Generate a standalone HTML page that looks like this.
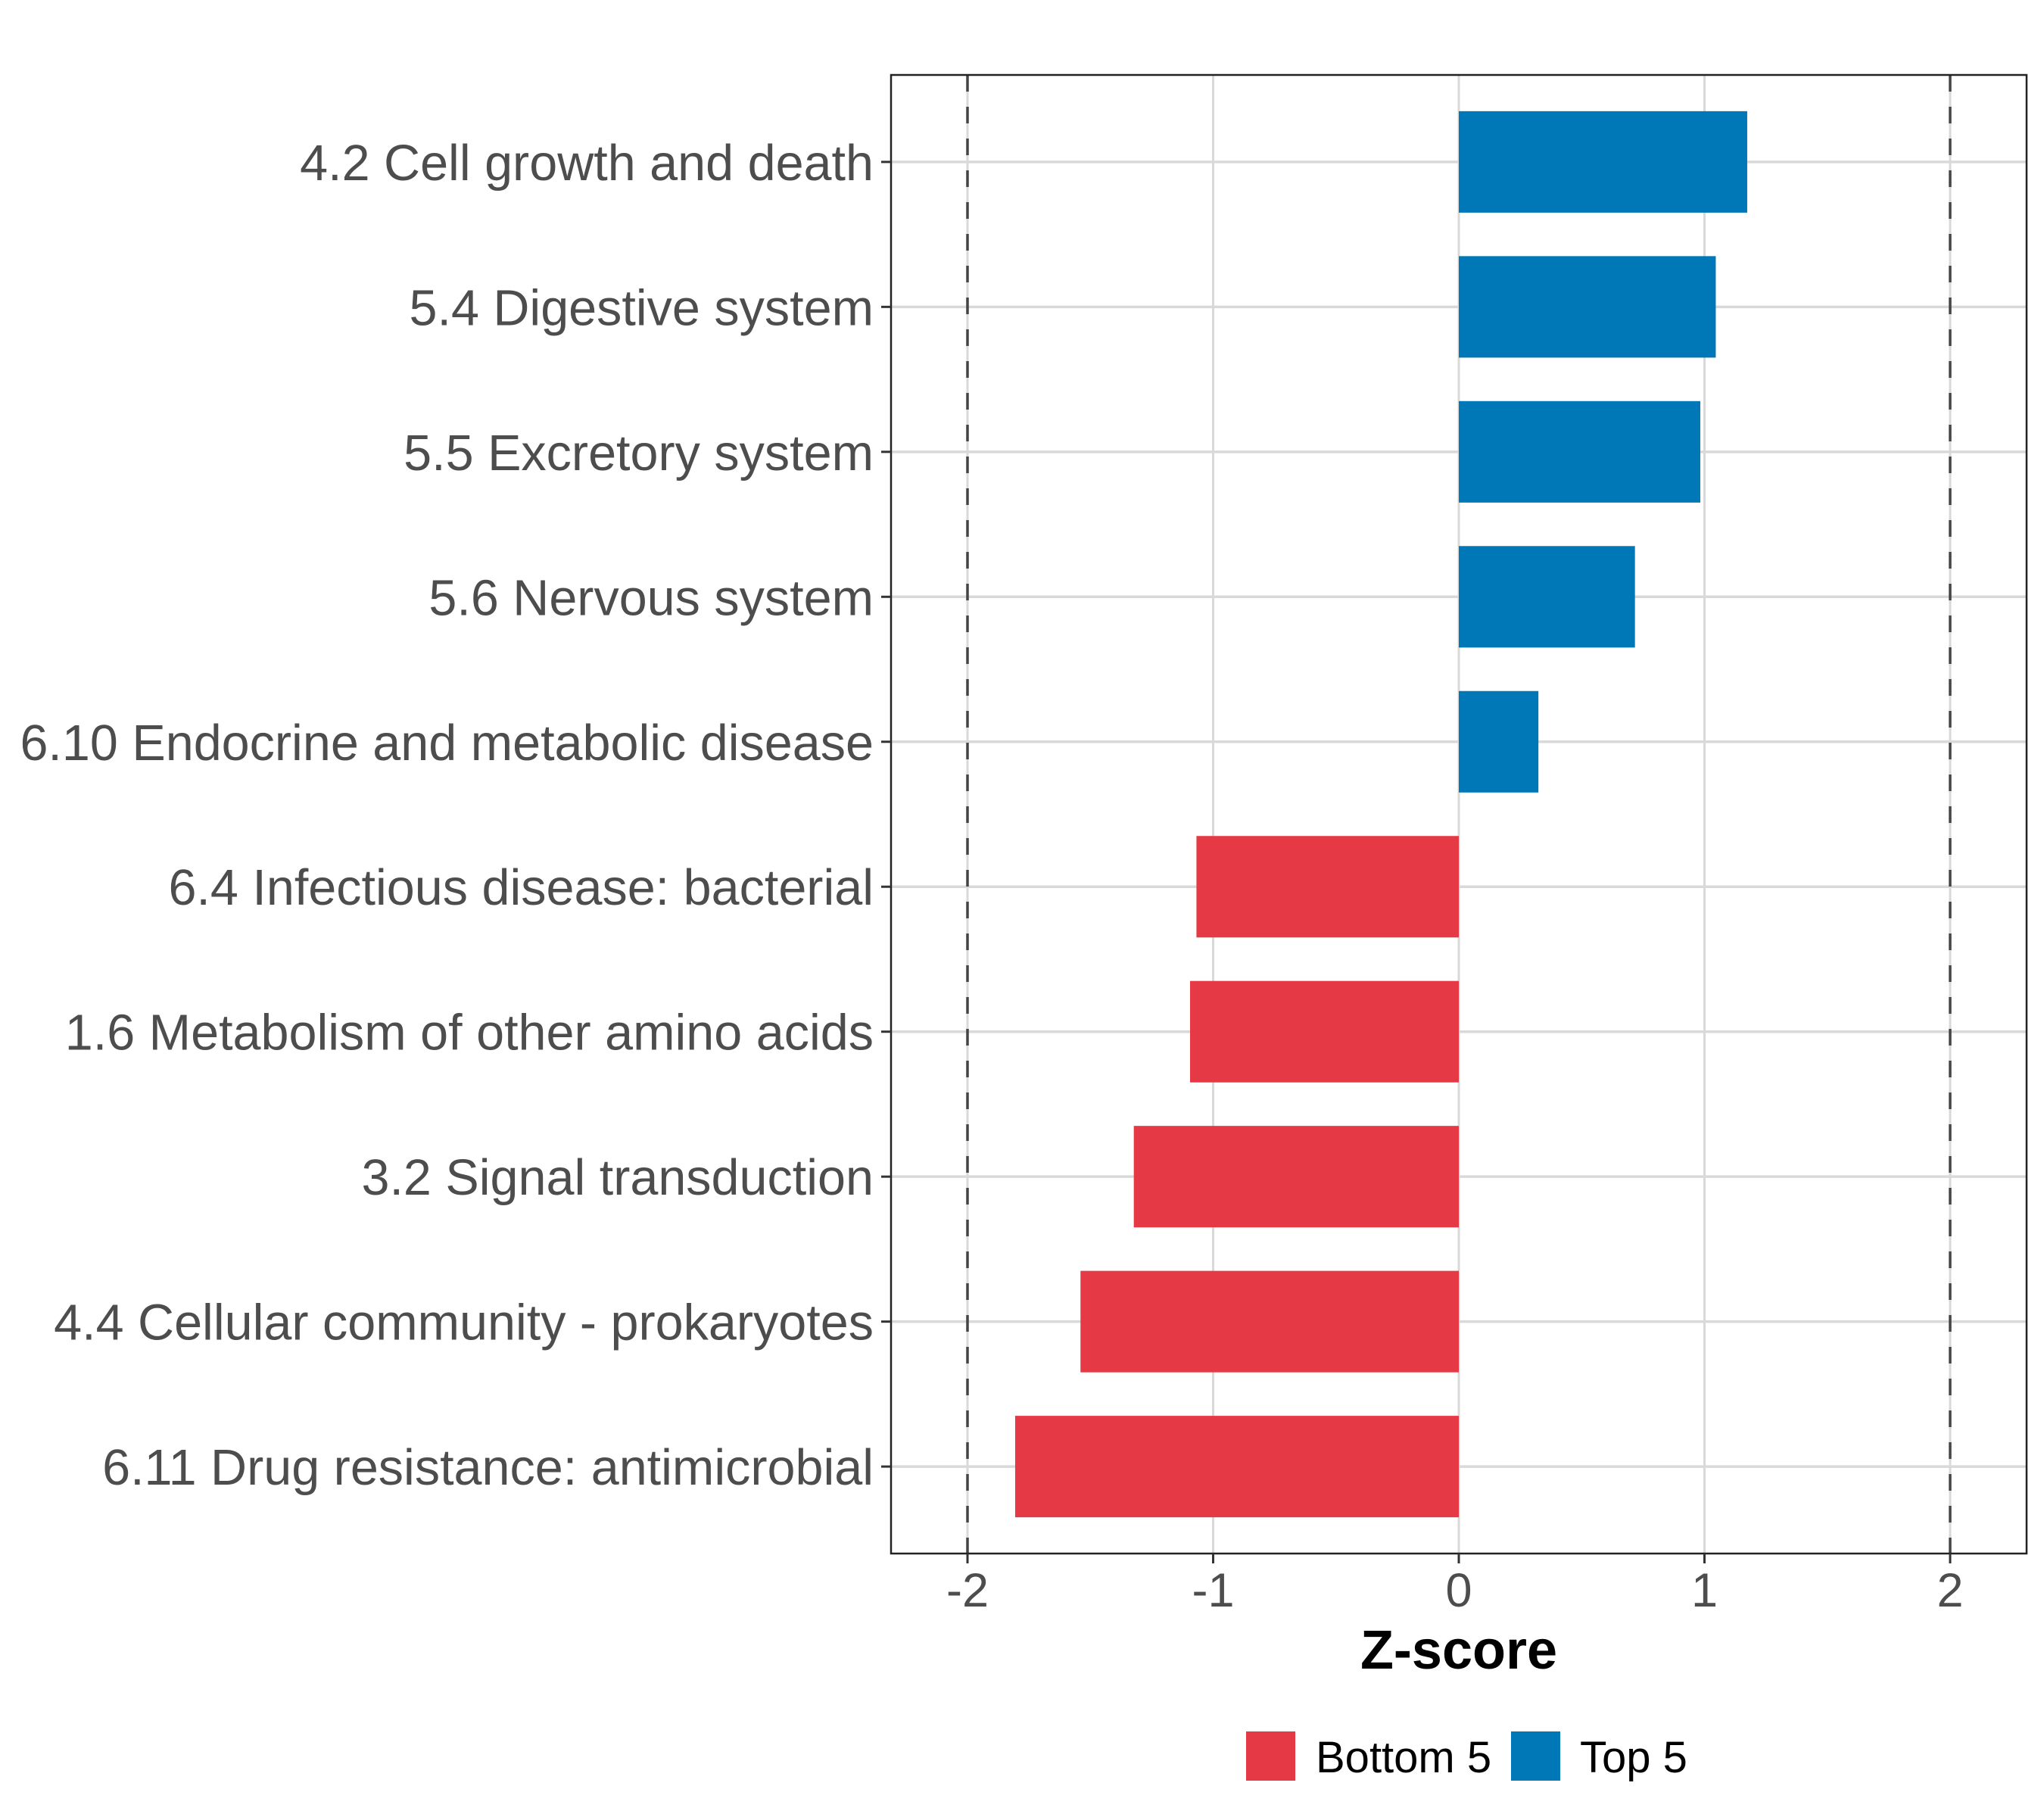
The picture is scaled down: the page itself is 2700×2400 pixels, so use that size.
<!DOCTYPE html>
<html><head><meta charset="utf-8"><style>
html,body{margin:0;padding:0;background:#fff;}
svg{display:block;font-family:"Liberation Sans",Arial,sans-serif;}
</style></head><body>
<svg id="chart" width="2700" height="2400" viewBox="0 0 2700 2400" xmlns="http://www.w3.org/2000/svg">
<rect x="0" y="0" width="2700" height="2400" fill="#fff"/>
<g id="grid"></g>
<g id="bars"></g>
<g id="refs"></g>
<rect x="1177" y="99" width="1500" height="1953" fill="none" stroke="#222" stroke-width="2.5"/>
<g id="yaxis"></g>
<g id="xaxis"></g>
<text x="1927" y="2204" text-anchor="middle" font-size="72" font-weight="bold" fill="#000">Z-score</text>
<g>
<rect x="1646" y="2287" width="65" height="65" fill="#E63946"/>
<text x="1738" y="2341" font-size="58" fill="#000">Bottom 5</text>
<rect x="1996" y="2287" width="65" height="65" fill="#0077B6"/>
<text x="2087" y="2341" font-size="58" fill="#000">Top 5</text>
</g>
</svg>
<script>
const categories = ["4.2 Cell growth and death","5.4 Digestive system","5.5 Excretory system","5.6 Nervous system","6.10 Endocrine and metabolic disease","6.4 Infectious disease: bacterial","1.6 Metabolism of other amino acids","3.2 Signal transduction","4.4 Cellular community - prokaryotes","6.11 Drug resistance: antimicrobial"];
const zScores = [1.174, 1.046, 0.983, 0.717, 0.324, -1.068, -1.094, -1.323, -1.54, -1.806];
const groups = ["Top 5","Top 5","Top 5","Top 5","Top 5","Bottom 5","Bottom 5","Bottom 5","Bottom 5","Bottom 5"];
const xTicks = [-2, -1, 0, 1, 2];
const xTickLabels = ["-2","-1","0","1","2"];
const refValues = [-2, 2];

const NS = "http://www.w3.org/2000/svg";
const PL = 1177, PR = 2677, PT = 99, PB = 2052;
const X0 = 1927, XU = 324.5;
function xs(v){ return X0 + v * XU; }
const rowStep = (PB - PT) / (categories.length + 0.2);
function ys(i){ return PT + rowStep * (0.6 + i); }
const colors = {"Top 5":"#0077B6","Bottom 5":"#E63946"};
function mk(tag, attrs, parent){
  const e = document.createElementNS(NS, tag);
  for (const k in attrs) e.setAttribute(k, attrs[k]);
  parent.appendChild(e);
  return e;
}
const grid = document.getElementById('grid');
xTicks.forEach((t) => {
  const l = mk('line', {x1: xs(t), x2: xs(t), y1: PT, y2: PB, stroke: '#d9d9d9', 'stroke-width': 3}, grid);
  
  
});
categories.forEach((c, i) => {
  const l = mk('line', {x1: PL, x2: PR, y1: ys(i), y2: ys(i), stroke: '#d9d9d9', 'stroke-width': 3.5}, grid);
  
  
});
const bars = document.getElementById('bars');
const bh = rowStep * 0.7;
categories.forEach((c, i) => {
  const v = zScores[i];
  const x = Math.min(xs(0), xs(v)), w = Math.abs(xs(v) - xs(0));
  const r = mk('rect', {x: x, y: ys(i) - bh/2, width: w, height: bh, fill: colors[groups[i]]}, bars);
  
  
});
const refs = document.getElementById('refs');
refValues.forEach((v) => {
  const l = mk('line', {x1: xs(v), x2: xs(v), y1: PT, y2: PB, stroke: '#444', 'stroke-width': 3.5, 'stroke-dasharray': '22 20'}, refs);
  
  
});
const yaxis = document.getElementById('yaxis');
categories.forEach((c, i) => {
  const t = mk('line', {x1: PL - 13, x2: PL, y1: ys(i), y2: ys(i), stroke: '#333', 'stroke-width': 3}, yaxis);
  
  
  const tx = mk('text', {x: PL - 23, y: ys(i) + 24, 'text-anchor': 'end', 'font-size': 66.5, fill: '#4d4d4d'}, yaxis);
  tx.textContent = c;
  
  
});
const xaxis = document.getElementById('xaxis');
xTicks.forEach((t, i) => {
  const l = mk('line', {x1: xs(t), x2: xs(t), y1: PB, y2: PB + 13, stroke: '#333', 'stroke-width': 3}, xaxis);
  
  
  const tx = mk('text', {x: xs(t), y: 2122, 'text-anchor': 'middle', 'font-size': 63, fill: '#4d4d4d'}, xaxis);
  tx.textContent = xTickLabels[i];
  
  
});
</script>
</body></html>
